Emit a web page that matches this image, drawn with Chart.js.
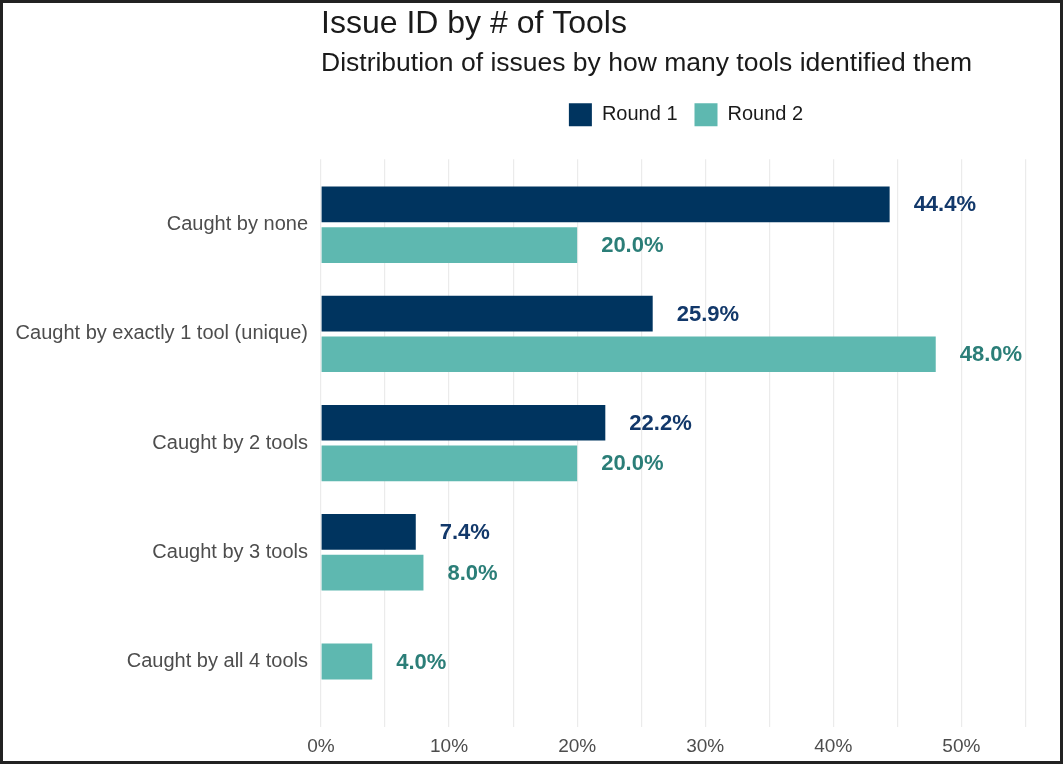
<!DOCTYPE html>
<html lang="en">
    <head>
        <meta charset="UTF-8" />
        <title>Issue ID by # of Tools</title>
        <script src="https://cdn.jsdelivr.net/npm/chart.js@4.4.1/dist/chart.umd.min.js"></script>
        <style>
            body {
                margin: 0;
                background: #fff;
            }
            #board {
                width: 1063px;
                height: 764px;
                box-sizing: border-box;
                border: 3px solid #222;
                background: #fff;
            }
        </style>
    </head>
    <body>
        <div id="board">
            <canvas id="chart1"></canvas>
        </div>
    </body>
</html>
<script>
    const categories = [
        'Caught by none',
        'Caught by exactly 1 tool (unique)',
        'Caught by 2 tools',
        'Caught by 3 tools',
        'Caught by all 4 tools',
    ];
    const round1 = [44.4, 25.9, 22.2, 7.4, null];
    const round2 = [20.0, 48.0, 20.0, 8.0, 4.0];
    const xTicks = [0, 5, 10, 15, 20, 25, 30, 35, 40, 45, 50, 55];

    const navy = '#00345f';
    const teal = '#5eb8b0';
    const labelColors = ['#12386a', '#2b7e78'];
    const font = "'Liberation Sans', Arial, sans-serif";

    // y is a numeric axis (0..4 = category index) so the ends can get ggplot-like padding
    const toPoints = (arr) => arr.map((v, i) => ({ x: v, y: i }));

    // writes "44.4%" etc. to the right of each bar
    const valueLabels = {
        id: 'valueLabels',
        afterDatasetsDraw(chart) {
            const ctx = chart.ctx;
            ctx.save();
            ctx.font = 'bold 22px ' + font;
            ctx.textAlign = 'left';
            ctx.textBaseline = 'middle';
            chart.data.datasets.forEach((ds, i) => {
                const meta = chart.getDatasetMeta(i);
                meta.data.forEach((bar, j) => {
                    const v = ds.data[j].x;
                    if (v === null) return;
                    ctx.fillStyle = labelColors[i];
                    ctx.fillText(v.toFixed(1) + '%', bar.x + 24, bar.y + 1);
                });
            });
            ctx.restore();
        },
    };

    new Chart(document.getElementById('chart1'), {
        type: 'bar',
        data: {
            datasets: [
                { label: 'Round 1', data: toPoints(round1), backgroundColor: navy },
                { label: 'Round 2', data: toPoints(round2), backgroundColor: teal },
            ],
        },
        plugins: [valueLabels],
        options: {
            indexAxis: 'y',
            responsive: true,
            maintainAspectRatio: false,
            animation: false,
            skipNull: true,
            categoryPercentage: 0.745,
            barPercentage: 0.877,
            maxBarThickness: 36,
            layout: { padding: { top: 0, right: 9, bottom: 0, left: 0 } },
            scales: {
                x: {
                    min: 0,
                    max: 57,
                    afterBuildTicks: (s) => {
                        s.ticks = xTicks.map((v) => ({ value: v }));
                    },
                    afterFit: (s) => {
                        s.height = 34;
                    },
                    grid: { color: '#ebebeb', lineWidth: 1.2, drawTicks: false },
                    border: { display: false },
                    ticks: {
                        padding: 8,
                        color: '#4d4d4d',
                        font: { family: font, size: 19 },
                        callback: (v) => (v % 10 === 0 ? v + '%' : ''),
                    },
                },
                // empty strip between legend and panel
                gap: {
                    type: 'linear',
                    position: 'top',
                    axis: 'x',
                    afterFit: (s) => {
                        s.height = 23;
                    },
                    grid: { display: false, drawTicks: false },
                    border: { display: false },
                    ticks: { display: false },
                },
                y: {
                    type: 'linear',
                    min: -0.6,
                    max: 4.6,
                    reverse: true,
                    offset: false,
                    afterBuildTicks: (s) => {
                        s.ticks = categories.map((c, i) => ({ value: i }));
                    },
                    afterFit: (s) => {
                        s.width = 318;
                    },
                    grid: { display: false, drawTicks: false },
                    border: { display: false },
                    ticks: {
                        padding: 13,
                        color: '#4d4d4d',
                        font: { family: font, size: 20 },
                        callback: (v) => categories[v],
                    },
                },
            },
            plugins: {
                title: {
                    display: true,
                    text: 'Issue ID by # of Tools',
                    align: 'start',
                    fullSize: false,
                    color: '#1a1a1a',
                    font: { family: font, size: 32, weight: 'normal' },
                    padding: { top: 2, bottom: 0 },
                },
                subtitle: {
                    display: true,
                    text: 'Distribution of issues by how many tools identified them',
                    align: 'start',
                    fullSize: false,
                    color: '#1a1a1a',
                    font: { family: font, size: 26.5 },
                    padding: { top: 4, bottom: 7 },
                },
                legend: {
                    display: true,
                    fullSize: false,
                    align: 'center',
                    labels: {
                        boxWidth: 23,
                        boxHeight: 23,
                        padding: 17,
                        color: '#1a1a1a',
                        font: { family: font, size: 20 },
                    },
                },
                tooltip: { enabled: false },
            },
        },
    });
</script>
